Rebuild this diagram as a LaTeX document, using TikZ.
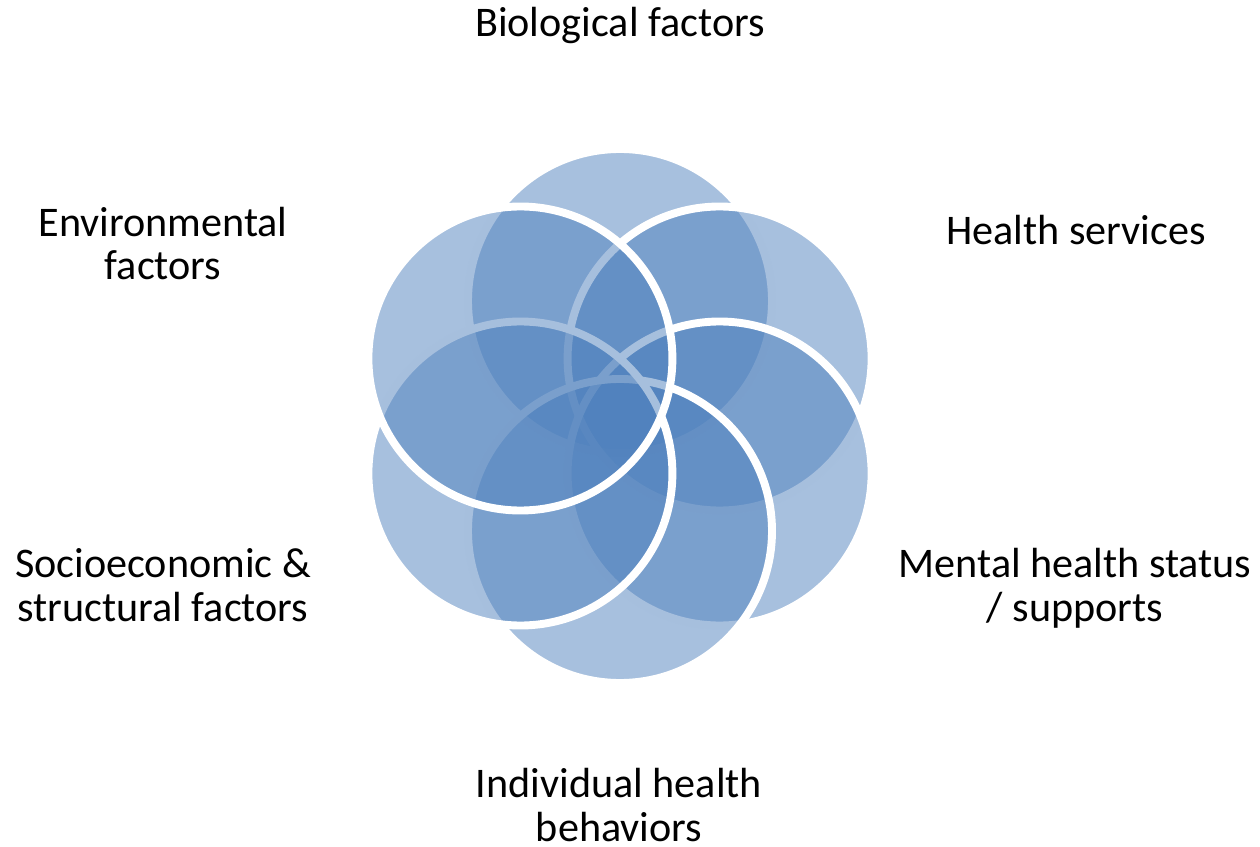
\documentclass[tikz,border=0pt]{standalone}
\usepackage{fontspec}
\setmainfont{Carlito}
\definecolor{wwqqcc}{rgb}{0.31,0.506,0.741}

\begin{document}
\begin{tikzpicture}[line cap=round,line join=round,x=0.02cm,y=0.02cm,
	lbl/.style={font=\fontsize{24}{25}\selectfont,align=center,inner sep=0pt,anchor=base}]
	\useasboundingbox (0,-847) rectangle (1260,0);
	% six petals, laid clockwise from the top one
	\foreach \a in {90,30,-30,-90,-150,150} {
		\fill[color=wwqqcc,fill opacity=0.5] (620,-416) ++(\a:115) circle (152);
		\draw[color=white,line width=4.5pt] (620,-416) ++(\a:115) circle (152);
	}
	% factor labels (base = last line)
	\node[lbl] (bio) at (620,-37) {Biological factors};
	\node[lbl] (hserv) at (1076,-245) {Health services};
	\node[lbl] (mental) at (1075,-621) {Mental health status\\/ supports};
	\node[lbl] (behav) at (619,-841) {Individual health\\behaviors};
	\node[lbl] (socio) at (163,-621) {Socioeconomic \&\\structural factors};
	\node[lbl] (envir) at (163,-280) {Environmental\\factors};
\end{tikzpicture}
\end{document}
